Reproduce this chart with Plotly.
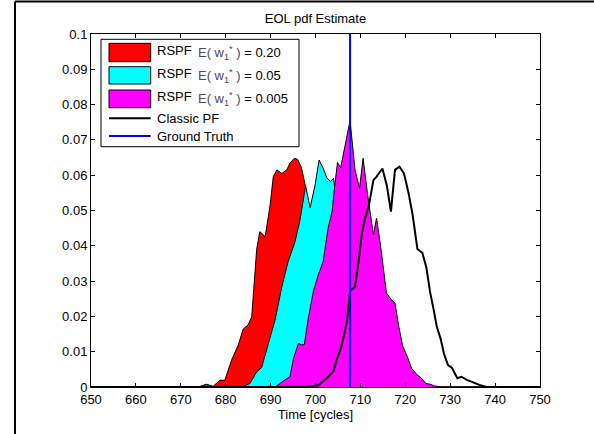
import plotly.graph_objects as go

# ---------------- data ----------------
red_x = [650, 673.9, 675.0, 675.7, 677.2, 678.7, 679.8, 681.3, 682.8, 683.9, 685.0, 685.8, 686.1,
         686.9, 687.6, 688.8, 689.9, 690.6, 691.4, 692.5, 693.6, 694.3, 695.3, 696.0, 696.9,
         697.7, 699, 700, 701, 702, 703, 704, 705, 706, 707, 708, 709, 710, 711, 750]
red_y = [0, 0, 0.0005, 0.0008, 0.0002, 0.0019, 0.0019, 0.0076, 0.0119, 0.0164, 0.0176, 0.0199, 0.0252,
         0.0390, 0.0440, 0.0426, 0.0516, 0.0596, 0.0615, 0.0605, 0.0615, 0.0634, 0.0648, 0.0645, 0.0620,
         0.0572, 0.047, 0.040, 0.033, 0.026, 0.019, 0.013, 0.008, 0.005, 0.003, 0.0015, 0.0007, 0.0003, 0, 0]

cyan_x = [650, 683.6, 685.4, 686.9, 688.0, 689.5, 691.0, 692.5, 693.9, 695.4, 696.5, 697.8, 698.8,
          699.9, 700.8, 701.7, 702.5, 703.3, 704.0, 704.3, 705, 706, 707, 708, 709, 710, 711,
          712, 713, 714, 715, 716, 717, 750]
cyan_y = [0, 0, 0.0010, 0.0043, 0.0055, 0.0119, 0.0190, 0.0284, 0.0355, 0.0410, 0.0470, 0.0570, 0.0508,
          0.0572, 0.0643, 0.0620, 0.0593, 0.0582, 0.0591, 0.0564, 0.052, 0.045, 0.038, 0.031, 0.024,
          0.018, 0.012, 0.008, 0.005, 0.003, 0.0015, 0.0005, 0, 0]

mag_x = [650, 691.0, 693.2, 694.3, 695.1, 695.8, 696.2, 696.9, 697.5, 698.4, 699.5, 700.6, 701.7,
         702.8, 703.7, 704.3, 704.9, 705.6, 706.6, 707.7, 708.8, 709.8, 710.6, 711.6, 712.9, 713.6,
         714.6, 715.8, 716.8, 717.7, 718.6, 719.4, 720.5, 721.4, 722.5, 723.6, 724.6, 725.5, 726.5,
         728.0, 750]
mag_y = [0, 0, 0.0020, 0.0029, 0.0081, 0.0105, 0.0124, 0.0119, 0.0120, 0.0195, 0.0270, 0.0317, 0.0355,
         0.0450, 0.0497, 0.0572, 0.0636, 0.0621, 0.0690, 0.0755, 0.0615, 0.0563, 0.0648, 0.0545, 0.0431,
         0.0478, 0.0390, 0.0266, 0.0249, 0.0237, 0.0168, 0.0117, 0.0084, 0.0053, 0.0036, 0.0025, 0.0010,
         0.0008, 0.0003, 0, 0]

pf_x = [650, 697.7, 700.6, 702.5, 704.0, 704.7, 705.8, 706.2, 707.0, 707.7, 708.8, 709.5, 710.4,
        711.1, 711.9, 712.9, 713.6, 714.9, 715.9, 716.8, 717.7, 718.7, 719.7, 720.7, 721.6, 722.7,
        723.8, 724.7, 725.5, 726.3, 727.0, 727.9, 728.6, 729.5, 730.4, 731.6, 732.5, 733.7, 735.1,
        736.5, 738.1, 750]
pf_y = [0, 0, 0.0005, 0.0025, 0.0045, 0.0076, 0.0115, 0.0138, 0.0185, 0.0272, 0.0284, 0.0346, 0.0440,
        0.0480, 0.0515, 0.0586, 0.0596, 0.0619, 0.0570, 0.0497, 0.0615, 0.0624, 0.0605, 0.0551,
        0.0490, 0.0391, 0.0380, 0.0338, 0.0270, 0.0220, 0.0172, 0.0135, 0.0095, 0.0062, 0.0054,
        0.0025, 0.0029, 0.0020, 0.0012, 0.0006, 0, 0]

truth_eol = 707.7

x_ticks = [650, 660, 670, 680, 690, 700, 710, 720, 730, 740, 750]
y_ticks = [0, 0.01, 0.02, 0.03, 0.04, 0.05, 0.06, 0.07, 0.08, 0.09, 0.1]
y_tick_text = ["0", "0.01", "0.02", "0.03", "0.04", "0.05", "0.06", "0.07", "0.08", "0.09", "0.1"]

legend_names = ["RSPF", "RSPF", "RSPF", "Classic PF", "Ground Truth"]
legend_params = ["0.20", "0.05", "0.005"]

title_text = "EOL pdf Estimate"
x_title = "Time [cycles]"

# ---------------- figure ----------------
FONT = "Liberation Sans, Arial, Helvetica, sans-serif"
fig = go.Figure()

fills = [(red_x, red_y, "#FF0000"), (cyan_x, cyan_y, "#00FFFF"), (mag_x, mag_y, "#FF00FF")]
for (xs, ys, col), nm in zip(fills, legend_names[:3]):
    fig.add_trace(go.Scatter(x=xs, y=ys, mode="lines", fill="tozeroy", fillcolor=col,
                             line=dict(color="black", width=1), name=nm, showlegend=False))

fig.add_trace(go.Scatter(x=pf_x, y=pf_y, mode="lines", line=dict(color="black", width=2),
                         name=legend_names[3], showlegend=False))
fig.add_trace(go.Scatter(x=[truth_eol, truth_eol], y=[y_ticks[0], y_ticks[-1]], mode="lines",
                         line=dict(color="#0000FF", width=2), name=legend_names[4], showlegend=False))

# plot area in pixels: x 91..540, y 34..387 (figure 594x434)
L, R, T, B = 91, 540, 34, 387
W, H = R - L, B - T


def px(X):
    return (X - L) / W


def py(Y):
    return (B - Y) / H


shapes = []
# outer figure frame (left and top edges visible)
shapes.append(dict(type="line", xref="paper", yref="paper", x0=px(15), x1=px(15), y0=py(440), y1=py(1.5),
                   line=dict(color="black", width=2)))
shapes.append(dict(type="line", xref="paper", yref="paper", x0=px(15), x1=px(600), y0=py(1.5), y1=py(1.5),
                   line=dict(color="black", width=2)))
# legend box
shapes.append(dict(type="rect", xref="paper", yref="paper", x0=px(101), x1=px(299), y0=py(146.7), y1=py(39.3),
                   line=dict(color="black", width=1), fillcolor="white", layer="above"))
patch_rows = [(43.3, 61.7), (66.7, 84.0), (90.0, 107.7)]
for (y0, y1), (_, _, col) in zip(patch_rows, fills):
    shapes.append(dict(type="rect", xref="paper", yref="paper", x0=px(109), x1=px(150.7), y0=py(y1), y1=py(y0),
                       line=dict(color="black", width=1), fillcolor=col, layer="above"))
shapes.append(dict(type="line", xref="paper", yref="paper", x0=px(109), x1=px(150.7), y0=py(118.3), y1=py(118.3),
                   line=dict(color="black", width=2), layer="above"))
shapes.append(dict(type="line", xref="paper", yref="paper", x0=px(109), x1=px(150.7), y0=py(136), y1=py(136),
                   line=dict(color="#0000FF", width=2), layer="above"))

annotations = []
row_y = [50.5, 73.5, 96.5, 118.5, 136.5]
for i in range(3):
    annotations.append(dict(xref="paper", yref="paper", x=px(155), y=py(row_y[i]), xanchor="left",
                            yanchor="middle", showarrow=False, text=legend_names[i],
                            font=dict(family=FONT, size=13, color="black")))
    annotations.append(dict(xref="paper", yref="paper", x=px(196), y=py(row_y[i] + 2.5), xanchor="left",
                            yanchor="middle", showarrow=False,
                            text="<span style='color:#4a4a66'>E( w<sub>1</sub><sup>*</sup> )</span> = "
                                 + legend_params[i],
                            font=dict(family=FONT, size=13, color="black")))
for i in (3, 4):
    annotations.append(dict(xref="paper", yref="paper", x=px(155), y=py(row_y[i]), xanchor="left",
                            yanchor="middle", showarrow=False, text=legend_names[i],
                            font=dict(family=FONT, size=13, color="black")))

fig.update_layout(
    width=594, height=434,
    margin=dict(l=L, r=594 - R, t=T, b=434 - B, pad=0),
    paper_bgcolor="white", plot_bgcolor="white",
    font=dict(family=FONT, size=13, color="black"),
    title=dict(text=title_text, x=px(315.5), xref="paper", xanchor="center",
               y=1 - 18 / 434, yref="container", yanchor="middle",
               font=dict(family=FONT, size=13, color="black")),
    showlegend=False,
    shapes=shapes,
    annotations=annotations,
)
fig.update_xaxes(range=[x_ticks[0], x_ticks[-1]], tickvals=x_ticks, ticks="inside", ticklen=4,
                 tickcolor="black", mirror="ticks", showline=True, linecolor="black", linewidth=1,
                 showgrid=False, zeroline=False,
                 title=dict(text=x_title, standoff=2, font=dict(family=FONT, size=13, color="black")),
                 tickfont=dict(family=FONT, size=13, color="black"))
fig.update_yaxes(range=[y_ticks[0], y_ticks[-1]], tickvals=y_ticks, ticktext=y_tick_text, ticks="inside",
                 ticklen=4, tickcolor="black", mirror="ticks", showline=True, linecolor="black", linewidth=1,
                 showgrid=False, zeroline=False,
                 tickfont=dict(family=FONT, size=13, color="black"))

fig.write_html("out.html", config={"displayModeBar": False, "staticPlot": True},
               post_script="document.body.style.margin='0';document.body.style.overflow='hidden';")
